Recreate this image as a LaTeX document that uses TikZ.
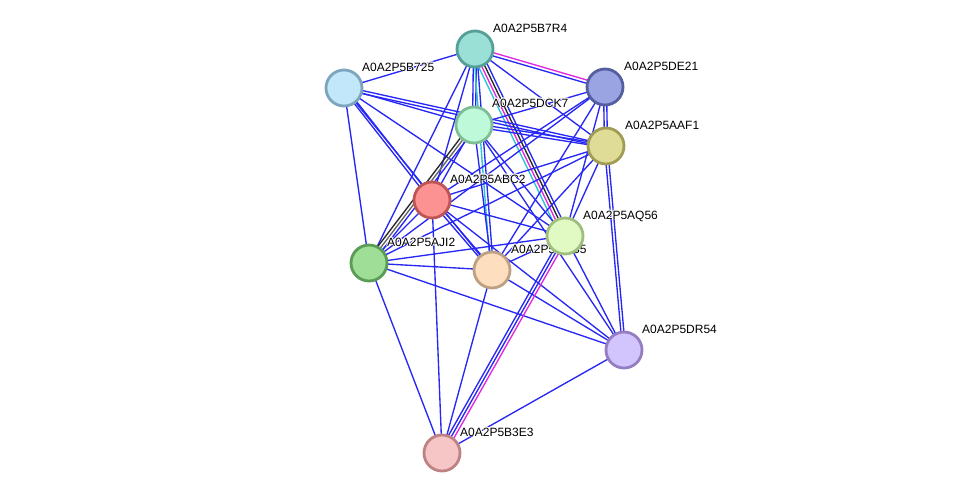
\documentclass[tikz,border=0pt]{standalone}
\usepackage{fontspec}
\setmainfont{Liberation Sans}
\usetikzlibrary{calc,backgrounds}
\definecolor{eblue}{RGB}{40,40,245}
\definecolor{emag}{RGB}{225,40,225}
\definecolor{ecyan}{RGB}{40,195,215}
\definecolor{eblk}{RGB}{40,40,40}
\definecolor{egry}{RGB}{100,100,100}
\newcommand\lnk[4]{\draw[#1] ($(#3.center)!#2!90:(#4.center)$) -- ($(#4.center)!#2!-90:(#3.center)$);}
\newcommand\hl[1]{\leavevmode\rlap{\color{white}\hspace{0.9pt}#1}\rlap{\color{white}\hspace{-0.9pt}#1}\rlap{\color{white}\raisebox{0.9pt}{#1}}\rlap{\color{white}\raisebox{-0.9pt}{#1}}\rlap{\color{white}\hspace{0.7pt}\raisebox{0.7pt}{#1}}\rlap{\color{white}\hspace{-0.7pt}\raisebox{0.7pt}{#1}}\rlap{\color{white}\hspace{0.7pt}\raisebox{-0.7pt}{#1}}\rlap{\color{white}\hspace{-0.7pt}\raisebox{-0.7pt}{#1}}#1}
\tikzset{
  eb/.style={draw=eblue,line width=1.35pt},
  em/.style={draw=emag,line width=1.35pt},
  ec/.style={draw=ecyan,line width=1.35pt},
  ek/.style={draw=eblk,line width=1.35pt},
  eg/.style={draw=egry,line width=1.35pt},
  prot/.style={circle,minimum size=36pt,inner sep=0pt,line width=2.8pt},
  lab/.style={anchor=base west,font=\fontsize{12pt}{13pt}\selectfont,inner sep=0pt}
}
\begin{document}
\begin{tikzpicture}[x=1pt,y=-1pt]
\useasboundingbox (0,0) rectangle (975,499);
% nodes
\node[prot,fill={rgb,255:red,155;green,224;blue,214},draw={rgb,255:red,85;green,160;blue,150}] (B7R4) at (475,49) {};
\node[lab] (lB7R4) at (493,32) {\hl{A0A2P5B7R4}};
\node[prot,fill={rgb,255:red,194;green,231;blue,250},draw={rgb,255:red,125;green,165;blue,190}] (B725) at (344,88) {};
\node[lab] (lB725) at (362,71) {\hl{A0A2P5B725}};
\node[prot,fill={rgb,255:red,154;green,164;blue,226},draw={rgb,255:red,85;green,95;blue,160}] (DE21) at (605,87) {};
\node[lab] (lDE21) at (624,70) {\hl{A0A2P5DE21}};
\node[prot,fill={rgb,255:red,190;green,250;blue,218},draw={rgb,255:red,125;green,190;blue,150}] (DCK7) at (474,125) {};
\node[lab] (lDCK7) at (492,107) {\hl{A0A2P5DCK7}};
\node[prot,fill={rgb,255:red,222;green,220;blue,150},draw={rgb,255:red,160;green,155;blue,85}] (AAF1) at (606,146) {};
\node[lab] (lAAF1) at (625,129) {\hl{A0A2P5AAF1}};
\node[prot,fill={rgb,255:red,253;green,146;blue,146},draw={rgb,255:red,190;green,85;blue,85}] (ABC2) at (432,200) {};
\node[lab] (lABC2) at (450,183) {\hl{A0A2P5ABC2}};
\node[prot,fill={rgb,255:red,158;green,222;blue,150},draw={rgb,255:red,90;green,155;blue,85}] (AJI2) at (369,263) {};
\node[lab] (lAJI2) at (387,246) {\hl{A0A2P5AJI2}};
\node[prot,fill={rgb,255:red,253;green,222;blue,190},draw={rgb,255:red,190;green,160;blue,130}] (X) at (492,270) {};
\node[lab] (lX) at (511,253) {\hl{A0A2P5ANS5}};
\node[prot,fill={rgb,255:red,225;green,250;blue,196},draw={rgb,255:red,160;green,190;blue,125}] (AQ56) at (565,236) {};
\node[lab] (lAQ56) at (583,219) {\hl{A0A2P5AQ56}};
\node[prot,fill={rgb,255:red,210;green,196;blue,252},draw={rgb,255:red,150;green,125;blue,195}] (DR54) at (624,350) {};
\node[lab] (lDR54) at (642,333) {\hl{A0A2P5DR54}};
\node[prot,fill={rgb,255:red,246;green,198;blue,198},draw={rgb,255:red,190;green,130;blue,130}] (B3E3) at (442,453) {};
\node[lab] (lB3E3) at (460,436) {\hl{A0A2P5B3E3}};
\begin{pgfonlayer}{background}
\lnk{eb}{0pt}{B7R4}{B725}
\lnk{em}{1.6pt}{B7R4}{DE21}
\lnk{eb}{-1.6pt}{B7R4}{DE21}
\lnk{eb}{1.5pt}{B7R4}{DCK7}
\lnk{eb}{-1.5pt}{B7R4}{DCK7}
\lnk{eb}{4.5pt}{B7R4}{AQ56}
\lnk{ek}{1.5pt}{B7R4}{AQ56}
\lnk{em}{-1.5pt}{B7R4}{AQ56}
\lnk{ec}{-4.5pt}{B7R4}{AQ56}
\lnk{eb}{0pt}{B7R4}{AAF1}
\lnk{eb}{0pt}{B7R4}{ABC2}
\lnk{eb}{0pt}{B7R4}{AJI2}
\lnk{eb}{1.5pt}{B7R4}{X}
\lnk{ec}{-1.5pt}{B7R4}{X}
\lnk{eb}{0pt}{DE21}{DCK7}
\lnk{eb}{1.5pt}{DE21}{AAF1}
\lnk{eb}{-1.5pt}{DE21}{AAF1}
\lnk{eb}{0pt}{DE21}{ABC2}
\lnk{eb}{0pt}{DE21}{AJI2}
\lnk{eb}{0pt}{DE21}{X}
\lnk{eb}{0pt}{DE21}{AQ56}
\lnk{eb}{0pt}{B725}{DCK7}
\lnk{eb}{1.5pt}{B725}{AAF1}
\lnk{eb}{-1.5pt}{B725}{AAF1}
\lnk{eb}{1.5pt}{B725}{ABC2}
\lnk{eb}{-1.5pt}{B725}{ABC2}
\lnk{eb}{0pt}{B725}{AJI2}
\lnk{eb}{0pt}{B725}{AQ56}
\lnk{eb}{0pt}{B725}{X}
\lnk{eb}{1.5pt}{DCK7}{AAF1}
\lnk{eb}{-1.5pt}{DCK7}{AAF1}
\lnk{eb}{0pt}{DCK7}{ABC2}
\lnk{eb}{3pt}{DCK7}{AJI2}
\lnk{eg}{0pt}{DCK7}{AJI2}
\lnk{ek}{-3pt}{DCK7}{AJI2}
\lnk{eb}{0pt}{DCK7}{X}
\lnk{eb}{0pt}{DCK7}{AQ56}
\lnk{eb}{0pt}{DCK7}{DR54}
\lnk{eb}{0pt}{AAF1}{ABC2}
\lnk{eb}{0pt}{AAF1}{AJI2}
\lnk{eb}{0pt}{AAF1}{X}
\lnk{eb}{0pt}{AAF1}{AQ56}
\lnk{eb}{1.5pt}{AAF1}{DR54}
\lnk{eb}{-1.5pt}{AAF1}{DR54}
\lnk{eb}{0pt}{ABC2}{AJI2}
\lnk{eb}{1.5pt}{ABC2}{X}
\lnk{eb}{-1.5pt}{ABC2}{X}
\lnk{eb}{0pt}{ABC2}{AQ56}
\lnk{eb}{0pt}{ABC2}{DR54}
\lnk{eb}{0pt}{ABC2}{B3E3}
\lnk{eb}{0pt}{AJI2}{X}
\lnk{eb}{0pt}{AJI2}{AQ56}
\lnk{eb}{0pt}{AJI2}{DR54}
\lnk{eb}{0pt}{AJI2}{B3E3}
\lnk{eb}{0pt}{X}{AQ56}
\lnk{eb}{0pt}{X}{DR54}
\lnk{eb}{0pt}{X}{B3E3}
\lnk{eb}{0pt}{AQ56}{DR54}
\lnk{em}{3pt}{AQ56}{B3E3}
\lnk{eb}{0pt}{AQ56}{B3E3}
\lnk{eb}{-3pt}{AQ56}{B3E3}
\lnk{eb}{0pt}{DR54}{B3E3}
\end{pgfonlayer}
\end{tikzpicture}
\end{document}
